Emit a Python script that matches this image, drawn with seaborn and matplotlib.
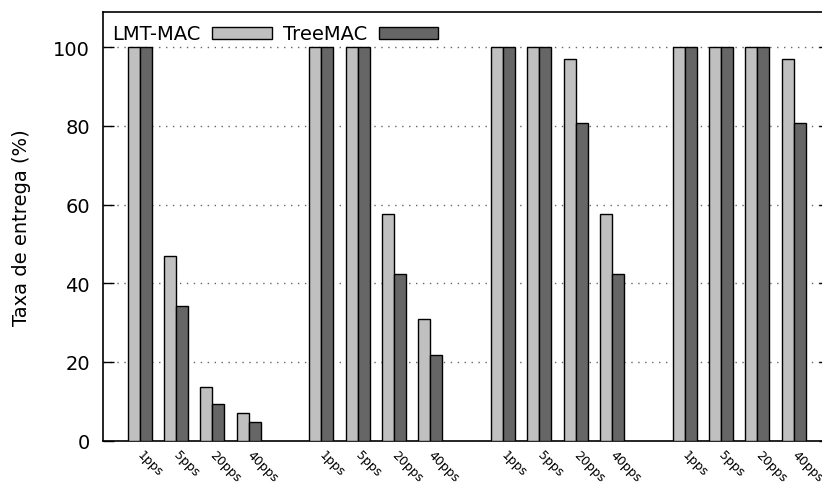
import matplotlib
matplotlib.use("Agg")
import matplotlib.pyplot as plt
import matplotlib.transforms as mtransforms
import seaborn as sns
import pandas as pd

# ---- data ----
categories = ["1pps", "5pps", "20pps", "40pps"]
n_groups = 4
series_names = ["LMT-MAC", "TreeMAC"]
lmt_mac = [100, 47.0, 13.6, 7.0,
           100, 100, 57.6, 30.8,
           100, 100, 96.9, 57.6,
           100, 100, 100, 96.9]
tree_mac = [100, 34.2, 9.3, 4.7,
            100, 100, 42.4, 21.9,
            100, 100, 80.7, 42.4,
            100, 100, 100, 80.7]
y_ticks = [0, 20, 40, 60, 80, 100]
y_label = "Taxa de entrega (%)"

# ---- layout: each group occupies 4 slots plus one empty slot ----
slot = []
labels = []
for g in range(n_groups):
    for c, cat in enumerate(categories):
        slot.append(g * (len(categories) + 1) + c)
        labels.append(cat)

df = pd.DataFrame({
    "pos": slot * 2,
    "value": lmt_mac + tree_mac,
    "series": [series_names[0]] * len(slot) + [series_names[1]] * len(slot),
})

sns.set_theme(style="white")
plt.rcParams["font.family"] = ["DejaVu Sans"]
plt.rcParams.update({"text.color": "black", "axes.labelcolor": "black",
                     "xtick.color": "black", "ytick.color": "black"})

fig = plt.figure(figsize=(8.22, 4.85), dpi=100)
ax = fig.add_axes([103.3 / 822, 43.3 / 485, 726.7 / 822, 429.0 / 485])

sns.barplot(data=df, x="pos", y="value", hue="series", native_scale=True,
            palette=["#c0c0c0", "#666666"], edgecolor="black", linewidth=1.0,
            width=2 / 3, ax=ax, legend=True, zorder=3)

ax.set_xlim(-1, 19)
ax.set_ylim(0, 109)

ax.set_yticks(y_ticks)
ax.set_yticklabels([str(v) for v in y_ticks], fontsize=14)
ax.tick_params(axis="y", direction="in", length=8, width=1, color="black",
               pad=9.5, left=True, right=True)
ax.set_xticks(slot)
ax.set_xticklabels(labels, fontsize=9, rotation=-45, ha="left", va="top",
                   rotation_mode="anchor")
ax.tick_params(axis="x", length=0, pad=5)
offset = mtransforms.ScaledTranslation(4.5 / 100, 0, fig.dpi_scale_trans)
for lab in ax.get_xticklabels():
    lab.set_transform(lab.get_transform() + offset)
ax.set_xlabel("")
ax.set_ylabel(y_label, fontsize=14)
ax.yaxis.label.set_va("center")
ax.yaxis.set_label_coords((21 - 103.3) / 726.7, 0.5)

ax.yaxis.grid(True, linestyle=(0, (1, 4)), color="#666666", linewidth=1.0)
ax.xaxis.grid(False)
ax.set_axisbelow(True)

for s in ax.spines.values():
    s.set_visible(True)
    s.set_color("black")
    s.set_linewidth(1.2)

handles, leg_labels = ax.get_legend_handles_labels()
ax.legend(handles, leg_labels, loc="upper left",
          bbox_to_anchor=(0.0, 1.0 - 4 / 429.0),
          ncol=2, frameon=False, markerfirst=False, fontsize=14,
          handlelength=3.05, handleheight=0.58, handletextpad=0.62,
          columnspacing=0.57, borderpad=0.3, borderaxespad=0.15)

fig.savefig("out.png", dpi=100)
